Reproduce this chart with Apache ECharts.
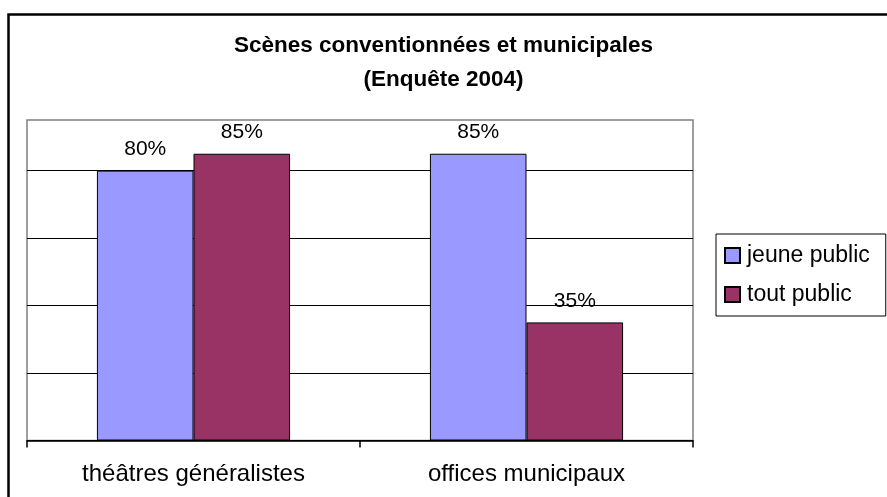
<!DOCTYPE html>
<html>
<head>
<meta charset="utf-8">
<style>
  html, body { margin: 0; padding: 0; background: #fff; }
  #chart { width: 887px; height: 497px; }
</style>
<script src="https://cdn.jsdelivr.net/npm/echarts@6/dist/echarts.min.js"></script>
</head>
<body>
<div id="chart"></div>
<script>
// données
var categories = ['théâtres généralistes', 'offices municipaux'];
var jeunePublic = [80, 85];
var toutPublic = [85, 35];
var seriesNames = ['jeune public', 'tout public'];

(function () {
    var myChart = echarts.init(document.getElementById('chart'));
    var font = '"Liberation Sans", Arial, sans-serif';

    function pct(p) { return p.value + '%'; }

    var option = {
        animation: false,
        textStyle: { fontFamily: font },
        title: {
            text: 'Scènes conventionnées et municipales\n(Enquête 2004)',
            left: 'center',
            top: 29,
            padding: 0,
            textStyle: {
                fontFamily: font,
                fontSize: 22.5,
                fontWeight: 'bold',
                color: '#000',
                lineHeight: 34
            }
        },
        // cadre extérieur
        graphic: [{
            type: 'rect',
            shape: { x: 8.5, y: 14.5, width: 1000, height: 1000 },
            style: { fill: null, stroke: '#000', lineWidth: 2.5 },
            silent: true
        }],
        legend: {
            orient: 'vertical',
            left: 716,
            top: 234,
            data: seriesNames,
            icon: 'rect',
            itemWidth: 15,
            itemHeight: 15,
            itemGap: 16,
            padding: [10, 16, 10, 8],
            borderColor: '#000',
            borderWidth: 1,
            textStyle: { fontFamily: font, fontSize: 23, color: '#000', padding: [0, 0, 0, 2] }
        },
        grid: {
            left: 27,
            top: 120,
            right: 194,
            bottom: 56.5,
            show: true,
            borderColor: '#808080',
            borderWidth: 1.5,
            containLabel: false
        },
        xAxis: {
            type: 'category',
            data: categories,
            axisLine: { lineStyle: { color: '#000', width: 1.5 } },
            axisTick: { show: true, length: 7, lineStyle: { color: '#000', width: 1.5 } },
            axisLabel: { color: '#000', fontSize: 24, margin: 22, fontFamily: font }
        },
        yAxis: {
            type: 'value',
            min: 0,
            max: 95,
            interval: 20,
            axisLine: { show: false },
            axisTick: { show: false },
            axisLabel: { show: false },
            splitLine: {
                show: true,
                showMaxLine: false,
                lineStyle: { color: '#000', width: 1 }
            }
        },
        series: [
            {
                name: seriesNames[0],
                type: 'bar',
                data: jeunePublic,
                barWidth: '29%',
                barGap: '0%',
                itemStyle: { color: '#9999ff', borderColor: '#000', borderWidth: 1 },
                label: {
                    show: true,
                    position: 'top',
                    distance: 11,
                    formatter: pct,
                    color: '#000',
                    fontSize: 21,
                    fontFamily: font
                }
            },
            {
                name: seriesNames[1],
                type: 'bar',
                data: toutPublic,
                barWidth: '29%',
                barGap: '0%',
                itemStyle: { color: '#993366', borderColor: '#000', borderWidth: 1 },
                label: {
                    show: true,
                    position: 'top',
                    distance: 11,
                    formatter: pct,
                    color: '#000',
                    fontSize: 21,
                    fontFamily: font
                }
            }
        ]
    };

    myChart.setOption(option);
})();
</script>
</body>
</html>
